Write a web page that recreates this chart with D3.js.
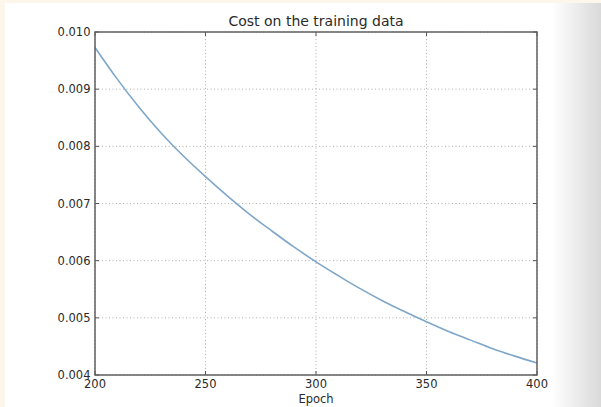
<!DOCTYPE html>
<html><head><meta charset="utf-8">
<script src="https://cdn.jsdelivr.net/npm/d3@7"></script>
<style>
html,body{margin:0;padding:0;background:#fcf7ea;}
svg{display:block;}
</style></head>
<body>
<svg id="chart" width="601" height="407"></svg>
<script>
const epochs = [200,210,220,230,240,250,260,270,280,290,300,310,320,330,340,350,360,370,380,390,400];
const cost = [0.00973,0.00918,0.00868,0.00823,0.00783,0.00747,0.00713,0.00681,0.00652,0.00624,0.00598,0.00574,0.00551,0.00530,0.00511,0.00493,0.00476,0.00461,0.00446,0.00433,0.00421];
const xTicks = [200,250,300,350,400];
const yTicks = [0.004,0.005,0.006,0.007,0.008,0.009,0.010];
const title = "Cost on the training data";
const xLabel = "Epoch";

const svg = d3.select("#chart");
const W = 601, H = 407;
const defs = svg.append("defs");
const grad = defs.append("linearGradient").attr("id","sideg").attr("x1","0").attr("x2","1").attr("y1","0").attr("y2","0");
grad.append("stop").attr("offset","0").attr("stop-color","#ffffff");
grad.append("stop").attr("offset","1").attr("stop-color","#d9d9d9");

svg.append("rect").attr("x",0).attr("y",0).attr("width",W).attr("height",H).attr("fill","#fcf7ea");
svg.append("rect").attr("x",5).attr("y",3).attr("width",W-5).attr("height",H-3).attr("fill","#ffffff");
svg.append("rect").attr("x",552).attr("y",3).attr("width",W-552).attr("height",H-3).attr("fill","url(#sideg)");

const m = {l:95, r:537, t:32, b:375};
const x = d3.scaleLinear().domain([200,400]).range([m.l,m.r]);
const y = d3.scaleLinear().domain([0.004,0.010]).range([m.b,m.t]);

const g = svg.append("g");
// grid
g.selectAll(".vg").data(xTicks).join("line")
  .attr("x1",d=>x(d)).attr("x2",d=>x(d)).attr("y1",m.t).attr("y2",m.b)
  .attr("stroke","#b0b0b0").attr("stroke-width",1).attr("stroke-dasharray","1,2.5");
g.selectAll(".hg").data(yTicks).join("line")
  .attr("y1",d=>y(d)).attr("y2",d=>y(d)).attr("x1",m.l).attr("x2",m.r)
  .attr("stroke","#b0b0b0").attr("stroke-width",1).attr("stroke-dasharray","1,2.5");

// line
const line = d3.line().x((d,i)=>x(epochs[i])).y(d=>y(d)).curve(d3.curveMonotoneX);
g.append("path").datum(cost).attr("d",line).attr("fill","none")
  .attr("stroke","#7ea7c9").attr("stroke-width",1.6);

// ticks (inward, all four sides)
const tl = 4;
xTicks.forEach(t=>{
  g.append("line").attr("x1",x(t)).attr("x2",x(t)).attr("y1",m.b).attr("y2",m.b-tl).attr("stroke","#555");
  g.append("line").attr("x1",x(t)).attr("x2",x(t)).attr("y1",m.t).attr("y2",m.t+tl).attr("stroke","#555");
});
yTicks.forEach(t=>{
  g.append("line").attr("y1",y(t)).attr("y2",y(t)).attr("x1",m.l).attr("x2",m.l+tl).attr("stroke","#555");
  g.append("line").attr("y1",y(t)).attr("y2",y(t)).attr("x1",m.r).attr("x2",m.r-tl).attr("stroke","#555");
});

// frame
g.append("rect").attr("x",m.l).attr("y",m.t).attr("width",m.r-m.l).attr("height",m.b-m.t)
  .attr("fill","none").attr("stroke","#606060").attr("stroke-width",1.5);

const font = "DejaVu Sans, sans-serif";
// tick labels
g.selectAll(".xl").data(xTicks).join("text")
  .attr("x",d=>x(d)).attr("y",388).attr("text-anchor","middle")
  .attr("font-family",font).attr("font-size",11.5).attr("fill","#2a2a2a")
  .text(d=>d);
g.selectAll(".yl").data(yTicks).join("text")
  .attr("x",90.5).attr("y",d=>y(d)).attr("dy","0.35em").attr("text-anchor","end")
  .attr("font-family",font).attr("font-size",11.5).attr("fill","#2a2a2a")
  .text(d=>d3.format(".3f")(d));

svg.append("text").attr("x",(m.l+m.r)/2).attr("y",26).attr("text-anchor","middle")
  .attr("font-family",font).attr("font-size",14).attr("fill","#2a2a2a").text(title);
svg.append("text").attr("x",(m.l+m.r)/2).attr("y",403).attr("text-anchor","middle")
  .attr("font-family",font).attr("font-size",11.5).attr("fill","#2a2a2a").text(xLabel);
</script>
</body></html>
